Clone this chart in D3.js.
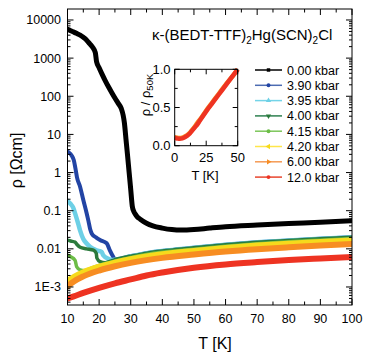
<!DOCTYPE html>
<html><head><meta charset="utf-8">
<script src="https://cdn.jsdelivr.net/npm/d3@7"></script>
<style>
body{margin:0;background:#fff;}
svg{display:block;font-family:"Liberation Sans",Arial,sans-serif;}
</style></head>
<body><svg id="c" width="373" height="358"></svg>
<script>
// ---- data ----
const labels = ["0.00 kbar","3.90 kbar","3.95 kbar","4.00 kbar","4.15 kbar","4.20 kbar","6.00 kbar","12.0 kbar"];
const colors = ["#000000","#2244a4","#6dd0e6","#2b7a3c","#6cbd47","#f6da1c","#f78d22","#ee3322"];
const legendColors = ["#000000","#4d6cb2","#74d4e8","#2e8050","#7cc65a","#ffe64a","#f59a55","#e8452e"];

const tBlack = [10,11,12,13,14,15,16,17,18,18.8,19.2,20,21,22,23,24,25,26,27,27.6,28,28.5,29,29.5,30,30.5,31,31.5,32,33,35,37,40,43,46,50,55,60,70,80,90,100];
const vBlack = [5700,5200,4800,4400,4000,3500,3000,2400,1900,1400,800,560,370,250,175,125,90,66,48,32,20,7.5,2.8,1.0,0.36,0.13,0.095,0.08,0.07,0.06,0.047,0.04,0.035,0.032,0.031,0.032,0.035,0.038,0.042,0.046,0.050,0.055];

const tMetal = [25,30,35,40,45,50,60,70,80,90,100];
const vMetalTop = [0.0052,0.0064,0.0077,0.0088,0.0097,0.0107,0.0128,0.0148,0.0166,0.0184,0.0202];

const t390 = [10,10.5,11.3,12,12.5,13,14,15,16,16.6,17.2,17.7,19,20.3,22.4,23.4,24.5];
const v390 = [3.5,3.3,2.8,2.1,1.3,0.75,0.42,0.19,0.09,0.055,0.032,0.025,0.02,0.017,0.014,0.0091,0.0061];

const t395 = [10,11,11.8,12.5,13.4,14,15,16,17.1,19.2,20.8,21.3,22.9,24];
const v395 = [0.18,0.15,0.12,0.08,0.045,0.03,0.018,0.014,0.0113,0.0091,0.0083,0.0068,0.0055,0.0051];

const t400 = [10,11,12.4,13,14,16,18.2,19.1,19.3,20.3,21.9,23.4];
const v400 = [0.017,0.016,0.015,0.013,0.011,0.010,0.0092,0.0076,0.0057,0.0046,0.0043,0.0047];

const t415 = [10,11,12.4,12.9,14,15.5,17,20];
const v415 = [0.0068,0.0062,0.005,0.0034,0.0028,0.0027,0.0030,0.0037];
const vMetal415 = [0.0048,0.0059,0.0071,0.0081,0.0089,0.0098,0.0117,0.0136,0.0153,0.0169,0.0186];

const t420 = [10,12,15,20,25,30,40,50,60,70,80,90,100];
const v420 = [0.0015,0.0019,0.0025,0.0035,0.0045,0.0055,0.0074,0.0091,0.0109,0.0126,0.0141,0.0156,0.0170];

const t600 = [10,12,15,20,25,30,40,50,60,70,80,90,100];
const v600 = [0.00105,0.0014,0.0019,0.0027,0.0035,0.0043,0.0058,0.0071,0.0085,0.0098,0.0110,0.0122,0.0133];

const t120 = [10,12,15,20,25,30,35,40,50,60,70,80,90,100];
const v120 = [0.0005,0.00057,0.0007,0.00095,0.00125,0.00158,0.0020,0.0024,0.0032,0.0039,0.0045,0.0051,0.0056,0.0061];

// inset (normalized rho / rho50K)
const tInset = [0,2,4,6,8,10,12,14,16,18,20,25,30,35,40,45,50];
const vInset600 = [0.11,0.105,0.10,0.105,0.12,0.14,0.17,0.21,0.25,0.30,0.34,0.46,0.57,0.68,0.79,0.89,1.0];
const vInset120 = [0.10,0.095,0.09,0.095,0.11,0.13,0.16,0.20,0.24,0.28,0.33,0.45,0.56,0.67,0.78,0.89,1.0];

const xTicks = [10,20,30,40,50,60,70,80,90,100];
const yTicks = [1e-3,1e-2,1e-1,1,10,100,1000,10000];
const yTickLabels = ["1E-3","0.01","0.1","1","10","100","1000","10000"];
const insetXTicks = [0,25,50];
const insetYTicks = [0,0.5,1.0];

// ---- build ----
const zip = (t,v)=>t.map((d,i)=>({t:d,v:v[i]}));
const series = [
  zip(tBlack,vBlack),
  zip(t390.concat(tMetal), v390.concat(vMetalTop)),
  zip(t395.concat(tMetal), v395.concat(vMetalTop)),
  zip(t400.concat(tMetal), v400.concat(vMetalTop)),
  zip(t415.concat(tMetal), v415.concat(vMetal415)),
  zip(t420,v420),
  zip(t600,v600),
  zip(t120,v120)
];
const widths = [5,4,4.5,3.5,3.5,5,6,6];

const svg = d3.select("#c");
const L=67.5, R=352, T=9, B=305;
const x = d3.scaleLinear().domain([10,100]).range([L,R]);
const y = d3.scaleLog().domain([3.37e-4,1.94e4]).range([B,T]);

const plot = svg.append("g");
plot.append("defs").append("clipPath").attr("id","clp").append("rect")
  .attr("x",L).attr("y",T).attr("width",R-L).attr("height",B-T);

const line = d3.line().x(d=>x(d.t)).y(d=>y(d.v)).curve(d3.curveMonotoneX);
const gl = plot.append("g").attr("clip-path","url(#clp)");
series.forEach((s,i)=>{
  gl.append("path").attr("d",line(s)).attr("fill","none")
    .attr("stroke",colors[i]).attr("stroke-width",widths[i])
    .attr("stroke-linejoin","round").attr("stroke-linecap","square");
});

// frame
svg.append("rect").attr("x",L).attr("y",T).attr("width",R-L).attr("height",B-T)
  .attr("fill","none").attr("stroke","#000").attr("stroke-width",1);

// x ticks (inward) bottom and top
const xMinor = d3.range(15,100,10);
const tk = svg.append("g").attr("stroke","#000").attr("stroke-width",1);
xTicks.forEach(t=>{
  tk.append("line").attr("x1",x(t)).attr("x2",x(t)).attr("y1",B).attr("y2",B-6);
  tk.append("line").attr("x1",x(t)).attr("x2",x(t)).attr("y1",T).attr("y2",T+6);
});
xMinor.forEach(t=>{
  tk.append("line").attr("x1",x(t)).attr("x2",x(t)).attr("y1",B).attr("y2",B-3.5);
  tk.append("line").attr("x1",x(t)).attr("x2",x(t)).attr("y1",T).attr("y2",T+3.5);
});
// y ticks (inward), left and right, with log minors
const yAll = [];
for(let e=-4;e<=4;e++){for(let m=1;m<10;m++){const v=m*Math.pow(10,e); if(v>=3.37e-4 && v<=1.94e4) yAll.push({v:v,major:m===1});}}
yAll.forEach(d=>{
  const len = d.major?6:3;
  tk.append("line").attr("x1",L).attr("x2",L+len).attr("y1",y(d.v)).attr("y2",y(d.v));
  tk.append("line").attr("x1",R).attr("x2",R-len).attr("y1",y(d.v)).attr("y2",y(d.v));
});

const txt = svg.append("g").attr("fill","#000");
xTicks.forEach(t=>{
  txt.append("text").attr("x",x(t)).attr("y",322.5).attr("text-anchor","middle")
    .attr("font-size",12.5).text(t);
});
yTicks.forEach((v,i)=>{
  txt.append("text").attr("x",61).attr("y",y(v)+4.5).attr("text-anchor","end")
    .attr("font-size",12.5).text(yTickLabels[i]);
});
txt.append("text").attr("x",215).attr("y",349).attr("text-anchor","middle")
  .attr("font-size",16).text("T [K]");
txt.append("text").attr("transform","translate(22,160.5) rotate(-90)")
  .attr("text-anchor","middle").attr("font-size",16).text("ρ [Ωcm]");

// title
const ti = txt.append("text").attr("x",152).attr("y",40).attr("font-size",15);
ti.append("tspan").text("κ-(BEDT-TTF)");
ti.append("tspan").attr("font-size",10).attr("dy",4).text("2");
ti.append("tspan").attr("dy",-4).text("Hg(SCN)");
ti.append("tspan").attr("font-size",10).attr("dy",4).text("2");
ti.append("tspan").attr("dy",-4).text("Cl");

// legend
const symTypes = [d3.symbolSquare,d3.symbolCircle,d3.symbolTriangle,d3.symbolTriangle,d3.symbolCircle,d3.symbolTriangle,d3.symbolTriangle,d3.symbolCircle];
const symRot = [0,0,0,180,0,-90,90,0];
const lg = svg.append("g");
labels.forEach((lab,i)=>{
  const yy = 70 + i*15.3;
  lg.append("line").attr("x1",255).attr("x2",282).attr("y1",yy).attr("y2",yy)
    .attr("stroke",legendColors[i]).attr("stroke-width",1.5);
  lg.append("path").attr("d",d3.symbol().type(symTypes[i]).size(12)())
    .attr("transform",`translate(268.5,${yy}) rotate(${symRot[i]})`)
    .attr("fill",colors[i]);
  lg.append("text").attr("x",287).attr("y",yy+4.5).attr("font-size",12.5).text(lab);
});

// inset
const iL=174.7, iR=237.7, iT=69.3, iB=145.7;
const ix = d3.scaleLinear().domain([0,50]).range([iL,iR]);
const iy = d3.scaleLinear().domain([0,1]).range([iB,iT]);
const iline = d3.line().x(d=>ix(d.t)).y(d=>iy(d.v)).curve(d3.curveMonotoneX);
svg.append("path").attr("d",iline(zip(tInset,vInset600))).attr("fill","none")
  .attr("stroke",colors[6]).attr("stroke-width",4.5);
svg.append("path").attr("d",iline(zip(tInset,vInset120))).attr("fill","none")
  .attr("stroke",colors[7]).attr("stroke-width",4.5);
svg.append("rect").attr("x",iL).attr("y",iT).attr("width",iR-iL).attr("height",iB-iT)
  .attr("fill","none").attr("stroke","#000").attr("stroke-width",1);
const itk = svg.append("g").attr("stroke","#000").attr("stroke-width",1);
[0,12.5,25,37.5,50].forEach((t,i)=>{
  const len = i%2===0?5:3;
  itk.append("line").attr("x1",ix(t)).attr("x2",ix(t)).attr("y1",iB).attr("y2",iB-len);
  itk.append("line").attr("x1",ix(t)).attr("x2",ix(t)).attr("y1",iT).attr("y2",iT+len);
});
[0,0.25,0.5,0.75,1].forEach((v,i)=>{
  const len = i%2===0?5:3;
  itk.append("line").attr("x1",iL).attr("x2",iL+len).attr("y1",iy(v)).attr("y2",iy(v));
  itk.append("line").attr("x1",iR).attr("x2",iR-len).attr("y1",iy(v)).attr("y2",iy(v));
});
insetXTicks.forEach(t=>{
  txt.append("text").attr("x",ix(t)).attr("y",161.5).attr("text-anchor","middle")
    .attr("font-size",13).text(t);
});
insetYTicks.forEach(v=>{
  txt.append("text").attr("x",170.5).attr("y",iy(v)+4.7).attr("text-anchor","end")
    .attr("font-size",13).text(v.toFixed(1));
});
txt.append("text").attr("x",205).attr("y",180).attr("text-anchor","middle")
  .attr("font-size",13).text("T [K]");
const iyl = txt.append("text").attr("transform","translate(150,95) rotate(-90)")
  .attr("text-anchor","middle").attr("font-size",13);
iyl.append("tspan").text("ρ  /  ρ");
iyl.append("tspan").attr("font-size",9.5).attr("dy",3).text("50K");
</script></body></html>
